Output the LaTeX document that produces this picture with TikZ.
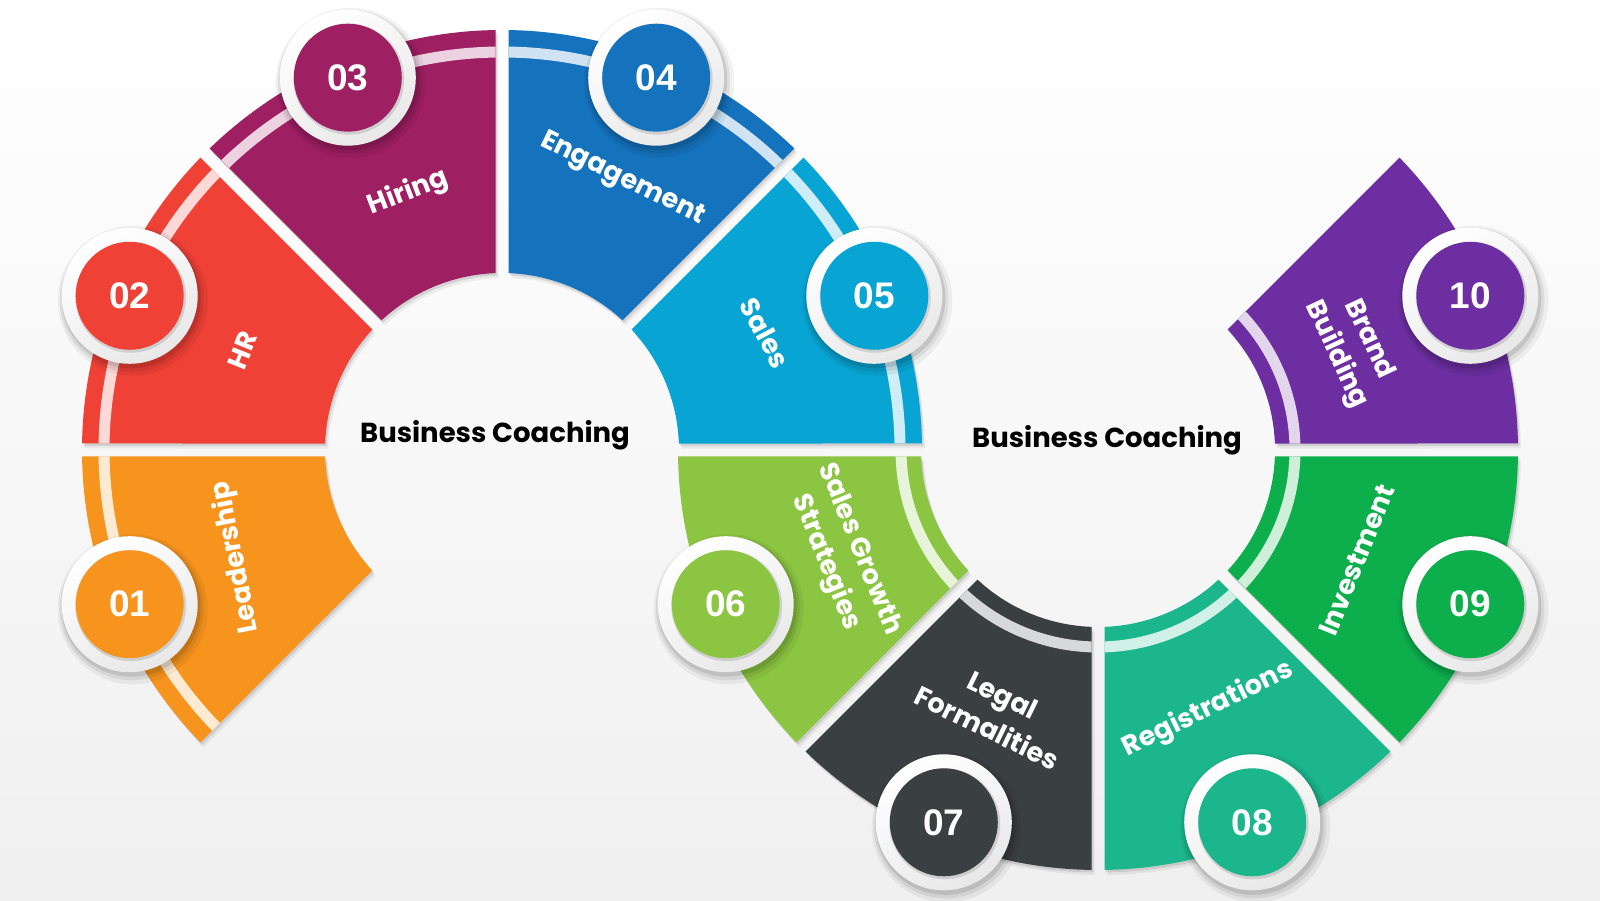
\documentclass[tikz,border=0pt]{standalone}
\usepackage{fontspec}
\setmainfont{Poppins}
\newfontfamily\numfont{Liberation Sans}
\usetikzlibrary{calc}
\definecolor{c01}{HTML}{F7941E}
\definecolor{c02}{HTML}{EF4136}
\definecolor{c03}{HTML}{9E1F62}
\definecolor{c04}{HTML}{1572BD}
\definecolor{c05}{HTML}{08A4D3}
\definecolor{c06}{HTML}{8CC541}
\definecolor{c07}{HTML}{3A3F41}
\definecolor{c08}{HTML}{1BB68C}
\definecolor{c09}{HTML}{0DAF4D}
\definecolor{c10}{HTML}{6C2EA0}
\def\segRin{177}\def\segRout{420}\def\segGap{6.5}
\newcommand\Seg[5]{%
  \pgfmathsetmacro\segAi{#2+asin(\segGap/\segRin)}%
  \pgfmathsetmacro\segAj{#3-asin(\segGap/\segRin)}%
  \pgfmathsetmacro\segAo{#2+asin(\segGap/\segRout)}%
  \pgfmathsetmacro\segAp{#3-asin(\segGap/\segRout)}%
  \path[fill=#4,
    preaction={fill=black,opacity=.06,transform canvas={shift={(3,-5)}}},
    preaction={fill=black,opacity=.10,transform canvas={shift={(1.5,-2.5)}}},
    path picture={\draw[line width=11,#4!20!white] (#1) circle[radius=#5];}]
    ($(#1)+(\segAi:\segRin)$) arc[start angle=\segAi,end angle=\segAj,radius=\segRin]
    -- ($(#1)+(\segAp:\segRout)$) arc[start angle=\segAp,end angle=\segAo,radius=\segRout] -- cycle;
}
\newcommand\Num[5]{%
  \coordinate (#1p) at ($(#2)+(#3:403)$);
  \fill[black,opacity=.05] ($(#1p)+(3,-5)$) circle[radius=75];
  \fill[black,opacity=.07] ($(#1p)+(2,-4)$) circle[radius=72];
  \fill[black,opacity=.10] ($(#1p)+(1.5,-3)$) circle[radius=69.5];
  \shade[top color=white,bottom color=black!9,shading angle=30] (#1p) circle[radius=68];
  \fill[black,opacity=.12] ($(#1p)+(1,-1.5)$) circle[radius=55.5];
  \node[numdisk,fill=#4] (#1) at (#1p) {#5};
}
\begin{document}
\begin{tikzpicture}[x=1pt,y=1pt,
  numdisk/.style={circle,minimum size=108,inner sep=0pt,text=white,
    font=\numfont\bfseries\fontsize{37}{37}\selectfont},
  lbl/.style={text=white,align=center,inner sep=0pt,
    font=\bfseries\fontsize{27}{36}\selectfont},
  bc/.style={text=black,inner sep=0pt,font=\bfseries\fontsize{27.5}{32}\selectfont}]
\useasboundingbox (0,0) rectangle (1600,900);
\shade[top color=white,bottom color=black!6] (0,0) rectangle (1600,900);
\coordinate (C1) at (502,450);
\coordinate (C2) at (1098,450);
% left ring
\Seg{C1}{180}{225}{c01}{398}
\Seg{C1}{135}{180}{c02}{398}
\Seg{C1}{90}{135}{c03}{398}
\Seg{C1}{45}{90}{c04}{398}
\Seg{C1}{0}{45}{c05}{398}
% right ring
\Seg{C2}{180}{225}{c06}{197}
\Seg{C2}{225}{270}{c07}{197}
\Seg{C2}{270}{315}{c08}{197}
\Seg{C2}{315}{360}{c09}{197}
\Seg{C2}{0}{45}{c10}{197}
% number circles
\Num{n01}{C1}{202.5}{c01}{01}
\Num{n02}{C1}{157.5}{c02}{02}
\Num{n03}{C1}{112.5}{c03}{03}
\Num{n04}{C1}{67.5}{c04}{04}
\Num{n05}{C1}{22.5}{c05}{05}
\Num{n06}{C2}{202.5}{c06}{06}
\Num{n07}{C2}{247.5}{c07}{07}
\Num{n08}{C2}{292.5}{c08}{08}
\Num{n09}{C2}{337.5}{c09}{09}
\Num{n10}{C2}{22.5}{c10}{10}
% labels
\node[lbl,rotate=101] (l01) at ($(C1)+(202:287)$) {Leadership};
\node[lbl,rotate=68] (l02) at ($(C1)+(159:278)$) {HR};
\node[lbl,rotate=21] (l03) at ($(C1)+(110:274)$) {Hiring};
\node[lbl,rotate=-26] (l04) at ($(C1)+(66:296)$) {Engagement};
\node[lbl,rotate=-62] (l05) at ($(C1)+(24:288)$) {Sales};
\node[lbl,rotate=-68] (l06) at ($(C2)+(202.5:277)$) {Sales Growth\\Strategies};
\node[lbl,rotate=-26] (l07) at ($(C2)+(248.5:281)$) {Legal\\Formalities};
\node[lbl,rotate=26] (l08) at ($(C2)+(293:282)$) {Registrations};
\node[lbl,rotate=68] (l09) at ($(C2)+(337:281)$) {Investment};
\node[lbl,rotate=-65] (l10) at ($(C2)+(22:274)$) {Brand\\Building};
% centre titles
\node[bc] (t1) at (495,465) {Business Coaching};
\node[bc] (t2) at (1107,460) {Business Coaching};
\end{tikzpicture}
\end{document}
